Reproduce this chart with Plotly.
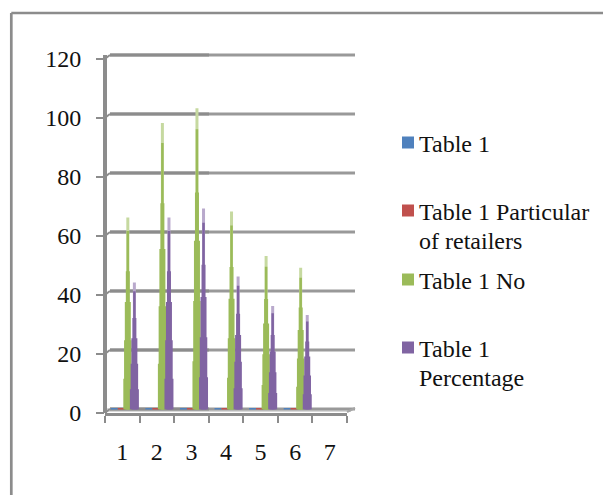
import plotly.graph_objects as go

categories = ["1", "2", "3", "4", "5", "6", "7"]
legend_names = ["Table 1", "Table 1 Particular of retailers", "Table 1 No", "Table 1 Percentage"]
legend_lines = [["Table 1"], ["Table 1 Particular", "of retailers"], ["Table 1 No"], ["Table 1", "Percentage"]]
table1 = [0.5, 0.5, 0.5, 0.5, 0.5, 0.5, None]
particular = [0.5, 0.5, 0.5, 0.5, 0.5, 0.5, None]
number = [65, 97, 102, 67, 52, 48, None]
percentage = [43, 65, 68, 45, 35, 32, None]
y_ticks = [0, 20, 40, 60, 80, 100, 120]

W, H = 603, 495
GREY = "#8c8c8c"
FONT = dict(family="Liberation Serif", size=24, color="#111111")
px_cat = 34.6
colors = ["#4f81bd", "#c0504d", "#9bbb59", "#8064a2"]
tips = ["#4f81bd", "#c0504d", "#c6d9a0", "#b9a9cc"]
centers = [-0.23, -0.03, 0.16, 0.35]
legend_y = [143, 211, 280, 348]
line_gap = 28.5
# each column is a tapered spike: (share of height, width in px)
taper = [(1.0, 3.0), (0.93, 2.5), (0.72, 4.0), (0.56, 6.0), (0.36, 7.5), (0.16, 9.0)]
flat = [(1.0, 7)]

T, B = 20, 20
ph = H - T - B
def fy(p):
    return (H - B - p) / ph
def fx(p):
    return p / W

fig = go.Figure()
all_vals = [table1, particular, number, percentage]
for i, vals in enumerate(all_vals):
    tiers = taper if i >= 2 else flat
    for j, (share, w) in enumerate(tiers):
        wu = w / px_cat
        fig.add_bar(
            x=categories,
            y=[None if v is None else v * share for v in vals],
            width=wu,
            offset=centers[i] - wu / 2,
            marker=dict(color=tips[i] if (j == 0 and i >= 2) else colors[i], line=dict(width=0)),
            name=legend_names[i],
            showlegend=False,
            hoverinfo="skip",
        )

def line(x0, y0, x1, y1, w=2.5, c=GREY, layer="below"):
    return dict(type="line", xref="paper", yref="paper", x0=fx(x0), x1=fx(x1),
                y0=fy(y0), y1=fy(y1), line=dict(color=c, width=w), layer=layer)

shapes = []
# floor band
shapes.append(dict(type="rect", xref="paper", yref="paper", x0=fx(105), x1=fx(351),
                   y0=fy(412), y1=fy(408), fillcolor="#d9d9d9", line=dict(width=0), layer="below"))
for t in y_ticks:
    px = 409 - t * (409 - 55) / 120
    shapes.append(line(110, px, 355, px, 3, "#999999"))
    shapes.append(line(110, px, 209, px, 3, GREY))
    shapes.append(line(105, px + 3.8, 110, px, 2, GREY))
shapes.append(line(11.3, 13, 11.3, 500, 2.7))
shapes.append(line(11.3, 13, 610, 13, 2.7))
shapes.append(line(105, 55, 105, 413, 4))
shapes.append(line(347, 412, 355, 408, 2, "#a6a6a6"))

annotations = []
for i, lines in enumerate(legend_lines):
    y0 = legend_y[i]
    shapes.append(dict(type="rect", xref="paper", yref="paper", x0=fx(402), x1=fx(414),
                       y0=fy(y0 - 6.5), y1=fy(y0 + 5.5), fillcolor=colors[i], line=dict(width=0)))
    for k, txt in enumerate(lines):
        annotations.append(dict(xref="paper", yref="paper", x=fx(419), y=fy(y0 + 1 + k * line_gap),
                                xanchor="left", yanchor="middle", align="left", showarrow=False,
                                font=FONT, text=txt, borderpad=0, borderwidth=0))

fig.update_layout(
    width=W, height=H,
    margin=dict(l=0, r=0, t=T, b=B),
    paper_bgcolor="white", plot_bgcolor="rgba(0,0,0,0)",
    barmode="overlay",
    font=FONT,
    showlegend=False,
    xaxis=dict(type="category", categoryorder="array", categoryarray=categories,
               domain=[fx(105), fx(347)], range=[-0.5, 6.5], tickson="boundaries",
               ticks="outside", ticklen=7, tickwidth=2, tickcolor=GREY,
               showline=True, linewidth=2.5, linecolor=GREY, anchor="y2",
               ticklabelstandoff=16, tickfont=FONT, showgrid=False, zeroline=False),
    yaxis=dict(domain=[fy(409.5), fy(55)], range=[0, 120], showticklabels=False, ticks="",
               showgrid=False, zeroline=False, showline=False, anchor="x"),
    yaxis2=dict(domain=[fy(412.8), fy(58.8)], range=[0, 120], tickvals=y_ticks,
                ticktext=[str(t) for t in y_ticks], ticks="outside", ticklen=8, tickwidth=2,
                tickcolor=GREY, showgrid=False, zeroline=False, showline=False,
                anchor="x", side="left", tickfont=FONT, ticklabelstandoff=10),
    shapes=shapes,
    annotations=annotations,
)
# keeps the tick-label axis on the page
fig.add_scatter(x=[categories[0]], y=[None], yaxis="y2", showlegend=False, hoverinfo="skip")
fig.write_html("out.html", post_script="document.body.style.margin='0';",
               config=dict(displayModeBar=False))
